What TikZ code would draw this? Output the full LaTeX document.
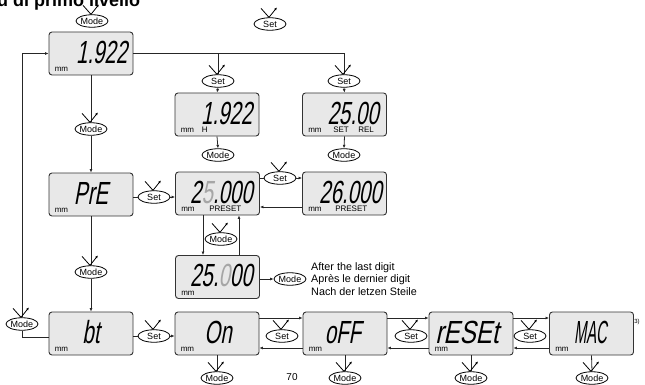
\documentclass[tikz,border=0pt]{standalone}
\usepackage{fontspec}
\setmainfont{Liberation Sans}
\newfontfamily\segfont[FakeStretch=0.64,FakeSlant=0.18]{Liberation Sans}
\usetikzlibrary{shapes.geometric,arrows.meta,calc}
\newcommand\presskey[1]{\draw[icon] ([shift={(-9,-9)}]#1.north) -- ([shift={(-1,0)}]#1.north) -- ([shift={(7,-10)}]#1.north);}
\tikzset{
  disp/.style={draw=black!80, line width=0.9pt, fill=black!9, rounded corners=3pt, minimum width=84pt, minimum height=43pt, inner sep=0pt},
  btn/.style={ellipse, draw=black, line width=0.8pt, fill=white, minimum width=32pt, minimum height=12.5pt, inner sep=0pt, font=\fontsize{9}{9}\selectfont},
  seg/.style={font=\segfont\fontsize{32}{32}\selectfont, inner sep=0pt},
  lbl/.style={font=\fontsize{8}{8}\selectfont, inner sep=0pt, anchor=base west},
  conn/.style={draw=black!85, line width=0.8pt},
  arr/.style={conn, -{Latex[length=3.5pt,width=3pt]}},
  icon/.style={line width=0.8pt, -{Latex[length=3pt,width=2.6pt]}},
  note/.style={font=\fontsize{10.8}{12}\selectfont, inner sep=0pt, anchor=base west}
}
\begin{document}
\begin{tikzpicture}[x=1pt,y=-1pt]
\useasboundingbox (0,0) rectangle (645,385);
\node[anchor=base west, font=\bfseries\fontsize{18}{18}\selectfont, inner sep=0pt] (title) at (-39,7) {Menu di primo livello};
% displays
\node[disp] (A) at (91,53.5) {};
\node[disp] (B) at (217,114.5) {};
\node[disp] (C) at (344.5,114.5) {};
\node[disp] (D) at (91,194.5) {};
\node[disp] (E) at (217.5,193.5) {};
\node[disp] (F) at (344.5,193.5) {};
\node[disp] (G) at (217.5,277) {};
\node[disp] (H) at (91,333.5) {};
\node[disp] (On) at (217,333.5) {};
\node[disp] (Off) at (345,333.5) {};
\node[disp] (Res) at (471,333.5) {};
\node[disp] (Mac) at (591.5,333.5) {};
% display texts
\node[seg, anchor=base east] (At) at ([shift={(-6,-12)}]A.south east) {1.922};
\node[seg, anchor=base east] (Bt) at ([shift={(-7,-12)}]B.south east) {1.922};
\node[seg, anchor=base east] (Ct) at ([shift={(-8,-12)}]C.south east) {25.00};
\node[seg, anchor=base] (Dt) at ([shift={(0,-12)}]D.south) {PrE};
\node[seg, anchor=base east] (Et) at ([shift={(-7,-12)}]E.south east) {2\textcolor{black!35}{5}.000};
\node[seg, anchor=base east] (Ft) at ([shift={(-5,-12)}]F.south east) {26.000};
\node[seg, anchor=base east] (Gt) at ([shift={(-7,-12)}]G.south east) {25.\textcolor{black!35}{0}00};
\node[seg, anchor=base] (Ht) at ([shift={(0,-12)}]H.south) {bt};
\node[seg, anchor=base] (Ont) at ([shift={(1,-12)}]On.south) {On};
\node[seg, anchor=base] (Offt) at ([shift={(-2,-12)}]Off.south) {oFF};
\node[seg, anchor=base] (Rest) at ([shift={(-4,-12)}]Res.south) {\scalebox{1.18}[1]{rESEt}};
\node[seg, anchor=base] (Mact) at ([shift={(-1,-12)}]Mac.south) {\scalebox{0.72}[1]{MAC}};
% small labels
\foreach \b in {A,B,C,D,E,F,G,H,On,Off,Res,Mac}{
  \node[lbl] (\b mm) at ([shift={(6,-3.5)}]\b.south west) {mm};
}
\node[lbl] (BH) at ([shift={(27,-3.5)}]B.south west) {H};
\node[lbl] (CS) at ([shift={(31,-3.5)}]C.south west) {SET};
\node[lbl] (CR) at ([shift={(56,-3.5)}]C.south west) {REL};
\node[lbl] (EP) at ([shift={(34,-3.5)}]E.south west) {PRESET};
\node[lbl] (FP) at ([shift={(33,-3.5)}]F.south west) {PRESET};
% buttons
\node[btn] (lm) at (92,21) {Mode};
\node[btn] (ls) at (270,24) {Set};
\node[btn] (mA) at (91,129) {Mode};
\node[btn] (sB) at (218,81) {Set};
\node[btn] (sC) at (344,81) {Set};
\node[btn] (mB) at (218,155) {Mode};
\node[btn] (mC) at (344,155) {Mode};
\node[btn] (mD) at (91,272) {Mode};
\node[btn] (sDE) at (154,197) {Set};
\node[btn] (sEF) at (280,178) {Set};
\node[btn] (mEG) at (221,239) {Mode};
\node[btn] (mG) at (290,279) {Mode};
\node[btn] (mL) at (22,324) {Mode};
\node[btn] (sHOn) at (154,336) {Set};
\node[btn] (sOO) at (282,336) {Set};
\node[btn] (sOR) at (411,336) {Set};
\node[btn] (sRM) at (530,336) {Set};
\node[btn] (mOn) at (217,378) {Mode};
\node[btn] (mOff) at (345,378) {Mode};
\node[btn] (mRes) at (471,378) {Mode};
\node[btn] (mMac) at (592,378) {Mode};
% connectors
\draw[conn] (A.east) -- (sC.north |- A.east) -- (sC.north);
\draw[conn] (sB.north |- A.east) -- (sB.north);
\draw[arr] (sB.south) -- (B.north);
\draw[arr] (sC.south) -- (C.north);
\draw[arr] (B.south) -- (mB.north);
\draw[arr] (C.south) -- (mC.north);
\draw[conn] (A.south) -- (mA.north);
\draw[arr] (mA.south) -- (D.north);
\draw[conn] (D.south) -- (mD.north);
\draw[arr] (mD.south) -- (H.north);
\draw[conn] (D.east |- sDE) -- (sDE.west);
\draw[arr] (sDE.east) -- (E.west |- sDE);
\draw[conn] (E.east |- sEF) -- (sEF.west);
\draw[arr] (sEF.east) -- (F.west |- sEF);
\draw[arr] ([shift={(0,13.5)}]F.west) -- ([shift={(0,13.5)}]E.east);
\draw[arr] ([shift={(-14.5,0)}]E.south) -- ([shift={(-14.5,0)}]G.north);
\draw[arr] ([shift={(21.5,0)}]G.north) -- ([shift={(21.5,0)}]E.south);
\draw[arr] (G.east |- mG) -- (mG.west);
\draw[conn] ([shift={(0,3.5)}]H.west) -| (mL.south);
\draw[arr] (mL.north) |- (A.west);
\draw[conn] (H.east |- sHOn) -- (sHOn.west);
\draw[arr] (sHOn.east) -- (On.west |- sHOn);
\foreach \p/\q in {On/Off,Off/Res,Res/Mac}{
  \draw[arr] ([shift={(0,-15.5)}]\p.east) -- ([shift={(0,-15.5)}]\q.west);
  \draw[arr] ([shift={(0,14.5)}]\q.west) -- ([shift={(0,14.5)}]\p.east);
}
\foreach \b/\m in {On/mOn,Off/mOff,Res/mRes,Mac/mMac}{
  \draw[conn] (\b.south) -- (\m.north);
}
% press icons
\foreach \k in {lm,ls,mA,sB,sC,mD,sDE,sEF,mEG,mL,sHOn,sOO,sOR,sRM,mOn,mOff,mRes,mMac}{
  \presskey{\k}
}
% notes
\node[note] (n1) at (311,270) {After the last digit};
\node[note] (n2) at (311,282.5) {Après le dernier digit};
\node[note] (n3) at (311,295) {Nach der letzen Steile};
\node[font=\fontsize{10}{10}\selectfont, inner sep=0pt] (pg) at (292,377) {70};
\node[font=\fontsize{6}{6}\selectfont, inner sep=0pt] (fn) at (637,322) {3)};
\end{tikzpicture}
\end{document}
